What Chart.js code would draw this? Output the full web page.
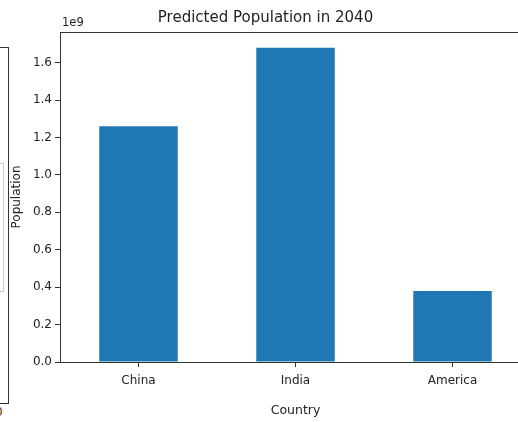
<!DOCTYPE html>
<html>
<head>
<meta charset="utf-8">
<script src="https://cdn.jsdelivr.net/npm/chart.js@4/dist/chart.umd.min.js"></script>
<style>
  html, body { margin: 0; padding: 0; background: #fff; overflow: hidden; }
  #wrap { position: relative; width: 518px; height: 422px; overflow: hidden; }
  #chart { position: absolute; left: 0; top: 0; }
  /* edge of the neighbouring panel on the left */
  .side { position: absolute; left: -2px; top: 47px; width: 9px; height: 355px; border: 1px solid #333; }
  .side-inner { position: absolute; left: -2px; top: 163px; width: 4px; height: 127px; border: 1px solid #ccc; }
  .side-txt { position: absolute; left: -5px; top: 405px; font: 12px "DejaVu Sans", sans-serif; color: #333; }
</style>
</head>
<body>
<div id="wrap">
  <div class="side"></div>
  <div class="side-inner"></div>
  <div class="side-txt">0</div>
  <canvas id="chart" width="590" height="422"></canvas>
</div>
<script>
// 2040 年人口預測
var countries = ['China', 'India', 'America'];
var population = [1.26e9, 1.68e9, 0.38e9];
var yTicks = [0, 0.2e9, 0.4e9, 0.6e9, 0.8e9, 1.0e9, 1.2e9, 1.4e9, 1.6e9];
var yMax = 1.764e9;

var FONT = '"DejaVu Sans", sans-serif';
var INK = '#222';

// 外框 + 1e9 倍數標記
var framePlugin = {
  id: 'frame',
  afterDraw: function(chart) {
    var a = chart.chartArea, ctx = chart.ctx;
    ctx.save();
    ctx.strokeStyle = '#333';
    ctx.lineWidth = 1;
    ctx.strokeRect(Math.round(a.left) + 0.5, Math.round(a.top) + 0.5,
      Math.round(a.right - a.left), Math.round(a.bottom - a.top));
    ctx.fillStyle = INK;
    ctx.font = '11.5px ' + FONT;
    ctx.textAlign = 'left';
    ctx.textBaseline = 'alphabetic';
    ctx.fillText('1e9', a.left + 2, a.top - 6);
    ctx.restore();
  }
};

new Chart(document.getElementById('chart').getContext('2d'), {
  type: 'bar',
  data: {
    labels: countries,
    datasets: [{
      data: population,
      backgroundColor: '#1f77b4',
      borderWidth: 0,
      categoryPercentage: 1,
      barPercentage: 0.5
    }]
  },
  options: {
    responsive: false,
    animation: false,
    layout: { padding: { left: 0, right: 59, top: 0, bottom: 0 } },
    plugins: {
      legend: { display: false },
      tooltip: { enabled: false },
      title: {
        display: true,
        text: 'Predicted Population in 2040',
        color: INK,
        font: { family: FONT, size: 15, weight: 'normal' },
        padding: { top: 9, bottom: 5 }
      }
    },
    scales: {
      x: {
        grid: { offset: false, drawOnChartArea: false, drawTicks: true, tickLength: 5, tickColor: '#333' },
        border: { display: true, color: '#333' },
        ticks: { color: INK, font: { family: FONT, size: 12 }, padding: 7, maxRotation: 0 },
        title: { display: true, text: 'Country', color: INK, font: { family: FONT, size: 12.5 }, padding: 4 },
        afterFit: function(s) { s.height = 60; }
      },
      y: {
        min: 0,
        max: yMax,
        grid: { drawOnChartArea: false, drawTicks: true, tickLength: 5, tickColor: '#333' },
        border: { display: true, color: '#333' },
        ticks: {
          color: INK,
          font: { family: FONT, size: 12 },
          padding: 3,
          callback: function(v) { return (v / 1e9).toFixed(1); }
        },
        afterBuildTicks: function(s) {
          s.ticks = yTicks.map(function(v) { return { value: v }; });
        },
        title: { display: true, text: 'Population', color: INK, font: { family: FONT, size: 12 }, padding: 10 },
        afterFit: function(s) { s.width = 60; }
      }
    }
  },
  plugins: [framePlugin]
});
</script>
</body>
</html>
